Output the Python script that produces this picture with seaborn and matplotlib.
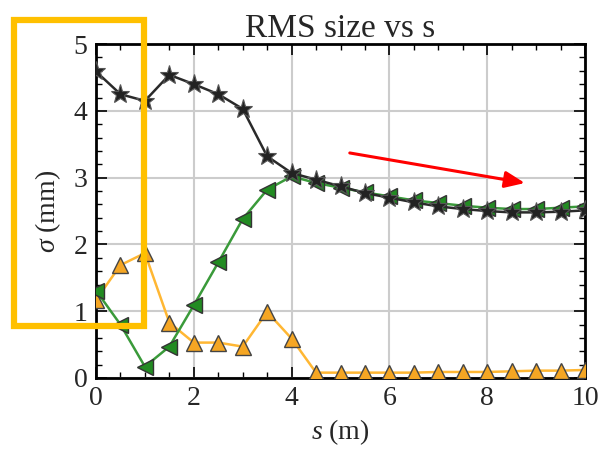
import numpy as np
import pandas as pd
import seaborn as sns
import matplotlib
matplotlib.use("Agg")
import matplotlib.pyplot as plt
from matplotlib.patches import Rectangle, FancyArrowPatch
from matplotlib.ticker import MultipleLocator

s_vals = [0, 0.5, 1, 1.5, 2, 2.5, 3, 3.5, 4, 4.5, 5, 5.5, 6, 6.5, 7, 7.5, 8, 8.5, 9, 9.5, 10]
black_sigma = [4.59, 4.25, 4.15, 4.54, 4.40, 4.25, 4.03, 3.32, 3.07, 2.97, 2.87, 2.77, 2.70, 2.63, 2.57, 2.53, 2.50, 2.48, 2.48, 2.49, 2.51]
green_sigma = [1.31, 0.80, 0.17, 0.47, 1.09, 1.73, 2.38, 2.82, 3.02, 2.92, 2.85, 2.78, 2.72, 2.66, 2.62, 2.58, 2.55, 2.53, 2.53, 2.55, 2.57]
orange_sigma = [1.17, 1.69, 1.87, 0.83, 0.53, 0.53, 0.47, 0.99, 0.59, 0.08, 0.08, 0.08, 0.08, 0.08, 0.09, 0.09, 0.09, 0.10, 0.11, 0.11, 0.12]

sns.set_theme(style="white")
plt.rcParams['font.family'] = ['Liberation Serif', 'DejaVu Serif']
plt.rcParams['mathtext.fontset'] = 'custom'
plt.rcParams['mathtext.it'] = 'Liberation Serif:italic'
plt.rcParams['mathtext.rm'] = 'Liberation Serif'

fig = plt.figure(figsize=(6, 4.53), dpi=100)
ax = fig.add_axes([0.16, 0.1656, 0.815, 0.737])

df = pd.DataFrame({"s": s_vals, "black": black_sigma, "green": green_sigma, "orange": orange_sigma})

sns.lineplot(data=df, x="s", y="orange", ax=ax, color="#FFB733", lw=1.8,
             marker="^", markersize=11, markerfacecolor="#F5A623",
             markeredgecolor="#444444", markeredgewidth=1.0, zorder=3)
sns.lineplot(data=df, x="s", y="green", ax=ax, color="#3A9A3A", lw=1.8,
             marker="<", markersize=12, markerfacecolor="#228B22",
             markeredgecolor="#333333", markeredgewidth=1.0, zorder=4)
sns.lineplot(data=df, x="s", y="black", ax=ax, color="#2a2a2a", lw=1.8,
             marker="*", markersize=14, markerfacecolor="#222222",
             markeredgecolor="#555555", markeredgewidth=0.8, zorder=5)

ax.set_xlim(0, 10)
ax.set_ylim(0, 5)
ax.xaxis.set_major_locator(MultipleLocator(2))
ax.xaxis.set_minor_locator(MultipleLocator(0.5))
ax.yaxis.set_major_locator(MultipleLocator(1))
ax.yaxis.set_minor_locator(MultipleLocator(0.2))
ax.grid(True, which="major", color="#cccccc", lw=1.5)
ax.set_axisbelow(True)
ax.tick_params(which="both", direction="in", top=True, right=True,
               bottom=True, left=True, color="black")
ax.tick_params(which="major", length=8, width=1.2, labelsize=20, pad=6)
ax.tick_params(which="minor", length=4, width=1.0)
for sp in ax.spines.values():
    sp.set_color("black")
    sp.set_linewidth(2)

ax.set_title("RMS size vs s", fontsize=24, pad=5)
ax.set_xlabel(r"$s$ (m)", fontsize=20, labelpad=4)
ax.set_ylabel(r"$\sigma$ (mm)", fontsize=20, labelpad=8)

arrow = FancyArrowPatch((5.19, 3.37), (8.77, 2.92), arrowstyle="-|>,head_length=12,head_width=5",
                        color="red", lw=2.2, mutation_scale=1, shrinkA=0, shrinkB=0, zorder=6)
ax.add_patch(arrow)

rect = Rectangle((14 / 600, 1 - 326 / 453), 130 / 600, 306 / 453, transform=fig.transFigure,
                 fill=False, edgecolor="#FFC000", lw=4.5, zorder=10)
fig.patches.append(rect)

fig.savefig("out.png", dpi=100)
